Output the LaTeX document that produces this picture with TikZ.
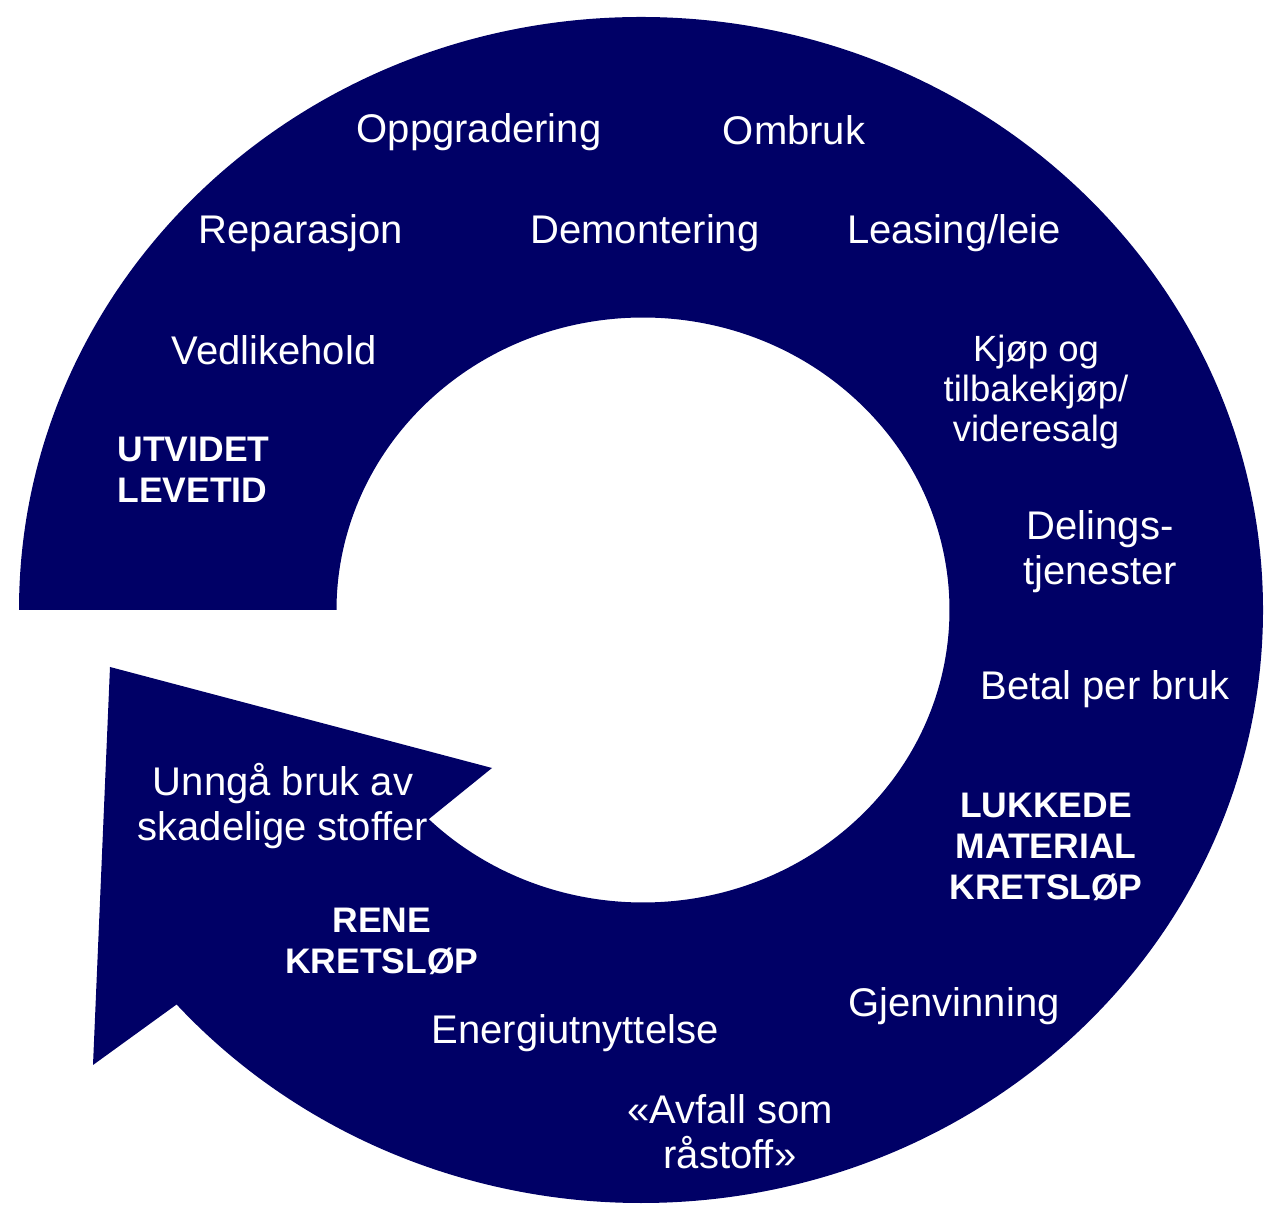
\documentclass[tikz,border=0pt]{standalone}
\usepackage{fontspec}
\setmainfont{Liberation Sans}
\usepackage{tikz}
\usetikzlibrary{calc}
\definecolor{ringblue}{RGB}{0,0,102}
\tikzset{ringtext/.style={text=white, font=\fontsize{40}{45}\selectfont, align=center},
smalltext/.style={ringtext, font=\fontsize{36.5}{40}\selectfont},
headtext/.style={text=white, font=\bfseries\fontsize{35.5}{41}\selectfont, align=center},}

\begin{document}
\begin{tikzpicture}[x=1pt, y=1pt]
\useasboundingbox (0,0) rectangle (1265,1204);
\coordinate (c) at (643,594);
\coordinate (tipbottom) at (93,139);
\coordinate (tiptop) at (110,537);
\coordinate (tipright) at (492,436);
% ring with arrowhead
\fill[ringblue] (19,594) arc[start angle=180, end angle=-138.3, x radius=622pt, y radius=593pt]
  -- (tipbottom) -- (tiptop) -- (tipright)
  -- ($(c)+(-134.35:306.5pt and 292.5pt)$)
  arc[start angle=-134.35, end angle=180, x radius=306.5pt, y radius=292.5pt] -- cycle;
% labels
\node [ringtext] (oppgradering) at (479,1072) {Oppgradering};
\node [ringtext] (ombruk) at (794,1074) {Ombruk};
\node [ringtext] (reparasjon) at (301,971) {Reparasjon};
\node [ringtext] (demontering) at (645,971) {Demontering};
\node [ringtext] (leasing) at (954,971) {Leasing/leie};
\node [ringtext] (vedlikehold) at (274,854) {Vedlikehold};
\node [headtext, align=left, anchor=west] (levetid) at (114,734) {UTVIDET\\LEVETID};
\node [smalltext] (kjop) at (1036,812) {Kjøp og\\tilbakekjøp/\\videresalg};
\node [ringtext] (deling) at (1100,652) {Delings-\\tjenester};
\node [ringtext] (betal) at (1105,515) {Betal per bruk};
\node [headtext] (lukkede) at (1046,357) {LUKKEDE\\MATERIAL\\KRETSLØP};
\node [ringtext] (unnga) at (283,398) {Unngå bruk av\\skadelige stoffer};
\node [headtext] (rene) at (382,263) {RENE\\KRETSLØP};
\node [ringtext] (energi) at (575,171) {Energiutnyttelse};
\node [ringtext] (gjenvinning) at (954,198) {Gjenvinning};
\node [ringtext] (avfall) at (730,72) {«Avfall som\\råstoff»};
\end{tikzpicture}
\end{document}
